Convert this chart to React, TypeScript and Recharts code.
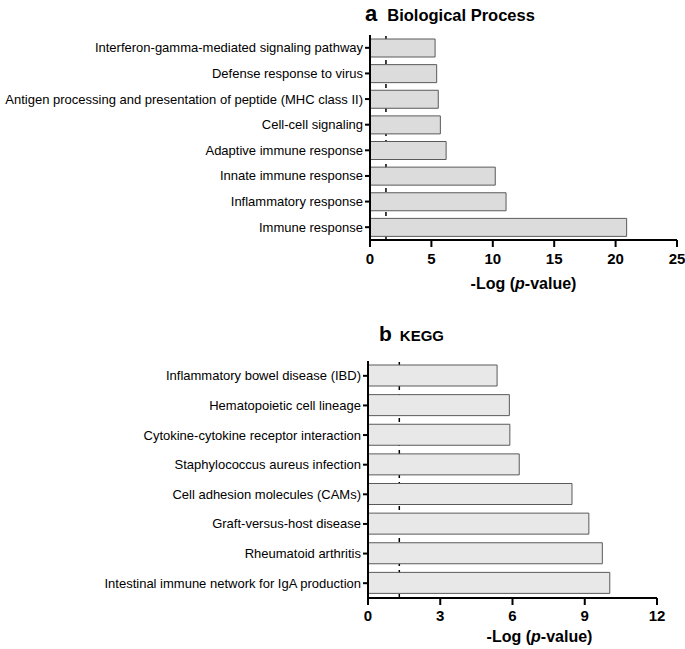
import { BarChart, Bar, XAxis, YAxis, ReferenceLine } from "recharts";

const bpTerms = [
  "Interferon-gamma-mediated signaling pathway",
  "Defense response to virus",
  "Antigen processing and presentation of peptide (MHC class II)",
  "Cell-cell signaling",
  "Adaptive immune response",
  "Innate immune response",
  "Inflammatory response",
  "Immune response",
];
const bpValues = [5.3, 5.43, 5.56, 5.73, 6.2, 10.2, 11.08, 20.9];
const bpTicks = [0, 5, 10, 15, 20, 25];

const keggTerms = [
  "Inflammatory bowel disease (IBD)",
  "Hematopoietic cell lineage",
  "Cytokine-cytokine receptor interaction",
  "Staphylococcus aureus infection",
  "Cell adhesion molecules (CAMs)",
  "Graft-versus-host disease",
  "Rheumatoid arthritis",
  "Intestinal immune network for IgA production",
];
const keggValues = [5.36, 5.87, 5.89, 6.28, 8.47, 9.17, 9.73, 10.04];
const keggTicks = [0, 3, 6, 9, 12];

// -log10(0.05)
const cutoff = 1.3;

const FONT = "'Liberation Sans', Arial, sans-serif";

const bpData = bpTerms.map((term, i) => ({ term, value: bpValues[i] }));
const keggData = keggTerms.map((term, i) => ({ term, value: keggValues[i] }));

function AxisTitle({ viewBox, dy, dx }: { viewBox?: any; dy: number; dx: number }) {
  if (!viewBox) return null;
  return (
    <text
      x={viewBox.x + viewBox.width / 2 + dx}
      y={viewBox.y + dy}
      textAnchor="middle"
      fontFamily={FONT}
      fontSize={16}
      fontWeight="bold"
      fill="#000"
    >
      -Log (<tspan fontStyle="italic">p</tspan>-value)
    </text>
  );
}

// plain single-line category label (recharts would wrap long ones)
function TermTick({ x, y, payload, size }: any) {
  return (
    <text x={x} y={y} dy="0.35em" textAnchor="end" fontFamily={FONT} fontSize={size} fill="#000">
      {payload.value}
    </text>
  );
}

interface PanelProps {
  data: { term: string; value: number }[];
  ticks: number[];
  max: number;
  fill: string;
  height: number;
  top: number;
  right: number;
  axisW: number;
  axisH: number;
  barSize: number;
  labelDy: number;
  labelDx: number;
  tickGap: number;
  termSize: number;
}

function Panel(p: PanelProps) {
  return (
    <BarChart
      layout="vertical"
      width={685}
      height={p.height}
      data={p.data}
      margin={{ top: p.top, right: p.right, bottom: 0, left: 0 }}
    >
      <ReferenceLine x={cutoff} stroke="#000" strokeWidth={1.5} strokeDasharray="4 4" zIndex={100} />
      <XAxis
        type="number"
        domain={[0, p.max]}
        ticks={p.ticks}
        interval={0}
        height={p.axisH}
        axisLine={{ stroke: "#000", strokeWidth: 2 }}
        tickLine={{ stroke: "#000", strokeWidth: 2 }}
        tickSize={7}
        tickMargin={p.tickGap}
        tick={{ fill: "#000", fontSize: 15, fontWeight: "bold", fontFamily: FONT }}
        label={<AxisTitle dy={p.labelDy} dx={p.labelDx} />}
      />
      <YAxis
        type="category"
        dataKey="term"
        width={p.axisW}
        axisLine={{ stroke: "#000", strokeWidth: 2 }}
        tickLine={{ stroke: "#000", strokeWidth: 2 }}
        tickSize={5}
        tickMargin={2}
        interval={0}
        tick={<TermTick size={p.termSize} />}
      />
      <Bar dataKey="value" fill={p.fill} stroke="#5a5a5a" strokeWidth={1} barSize={p.barSize} isAnimationActive={false} />
    </BarChart>
  );
}

export default function App() {
  return (
    <div style={{ position: "absolute", left: 0, top: 0, width: 685, height: 649, background: "#fff", fontFamily: FONT }}>
      <div style={{ position: "absolute", left: 0, top: 0 }}>
        <Panel
          data={bpData}
          ticks={bpTicks}
          max={25}
          fill="#dcdcdc"
          height={300}
          top={35}
          right={8}
          axisW={370}
          axisH={60}
          barSize={18}
          labelDy={49}
          labelDx={0}
          tickGap={6}
          termSize={13}
        />
      </div>
      <div style={{ position: "absolute", left: 0, top: 300 }}>
        <Panel
          data={keggData}
          ticks={keggTicks}
          max={12}
          fill="#e8e8e8"
          height={349}
          top={61}
          right={28}
          axisW={368}
          axisH={51}
          barSize={21}
          labelDy={44}
          labelDx={27}
          tickGap={5}
          termSize={13}
        />
      </div>
      <div style={{ position: "absolute", left: 365, top: 1, fontWeight: "bold", color: "#000", whiteSpace: "nowrap" }}>
        <span style={{ fontSize: 22 }}>a</span>
        <span style={{ fontSize: 16.5, marginLeft: 10 }}>Biological Process</span>
      </div>
      <div style={{ position: "absolute", left: 379, top: 322, fontWeight: "bold", color: "#000", whiteSpace: "nowrap" }}>
        <span style={{ fontSize: 21 }}>b</span>
        <span style={{ fontSize: 15, marginLeft: 8 }}>KEGG</span>
      </div>
    </div>
  );
}
